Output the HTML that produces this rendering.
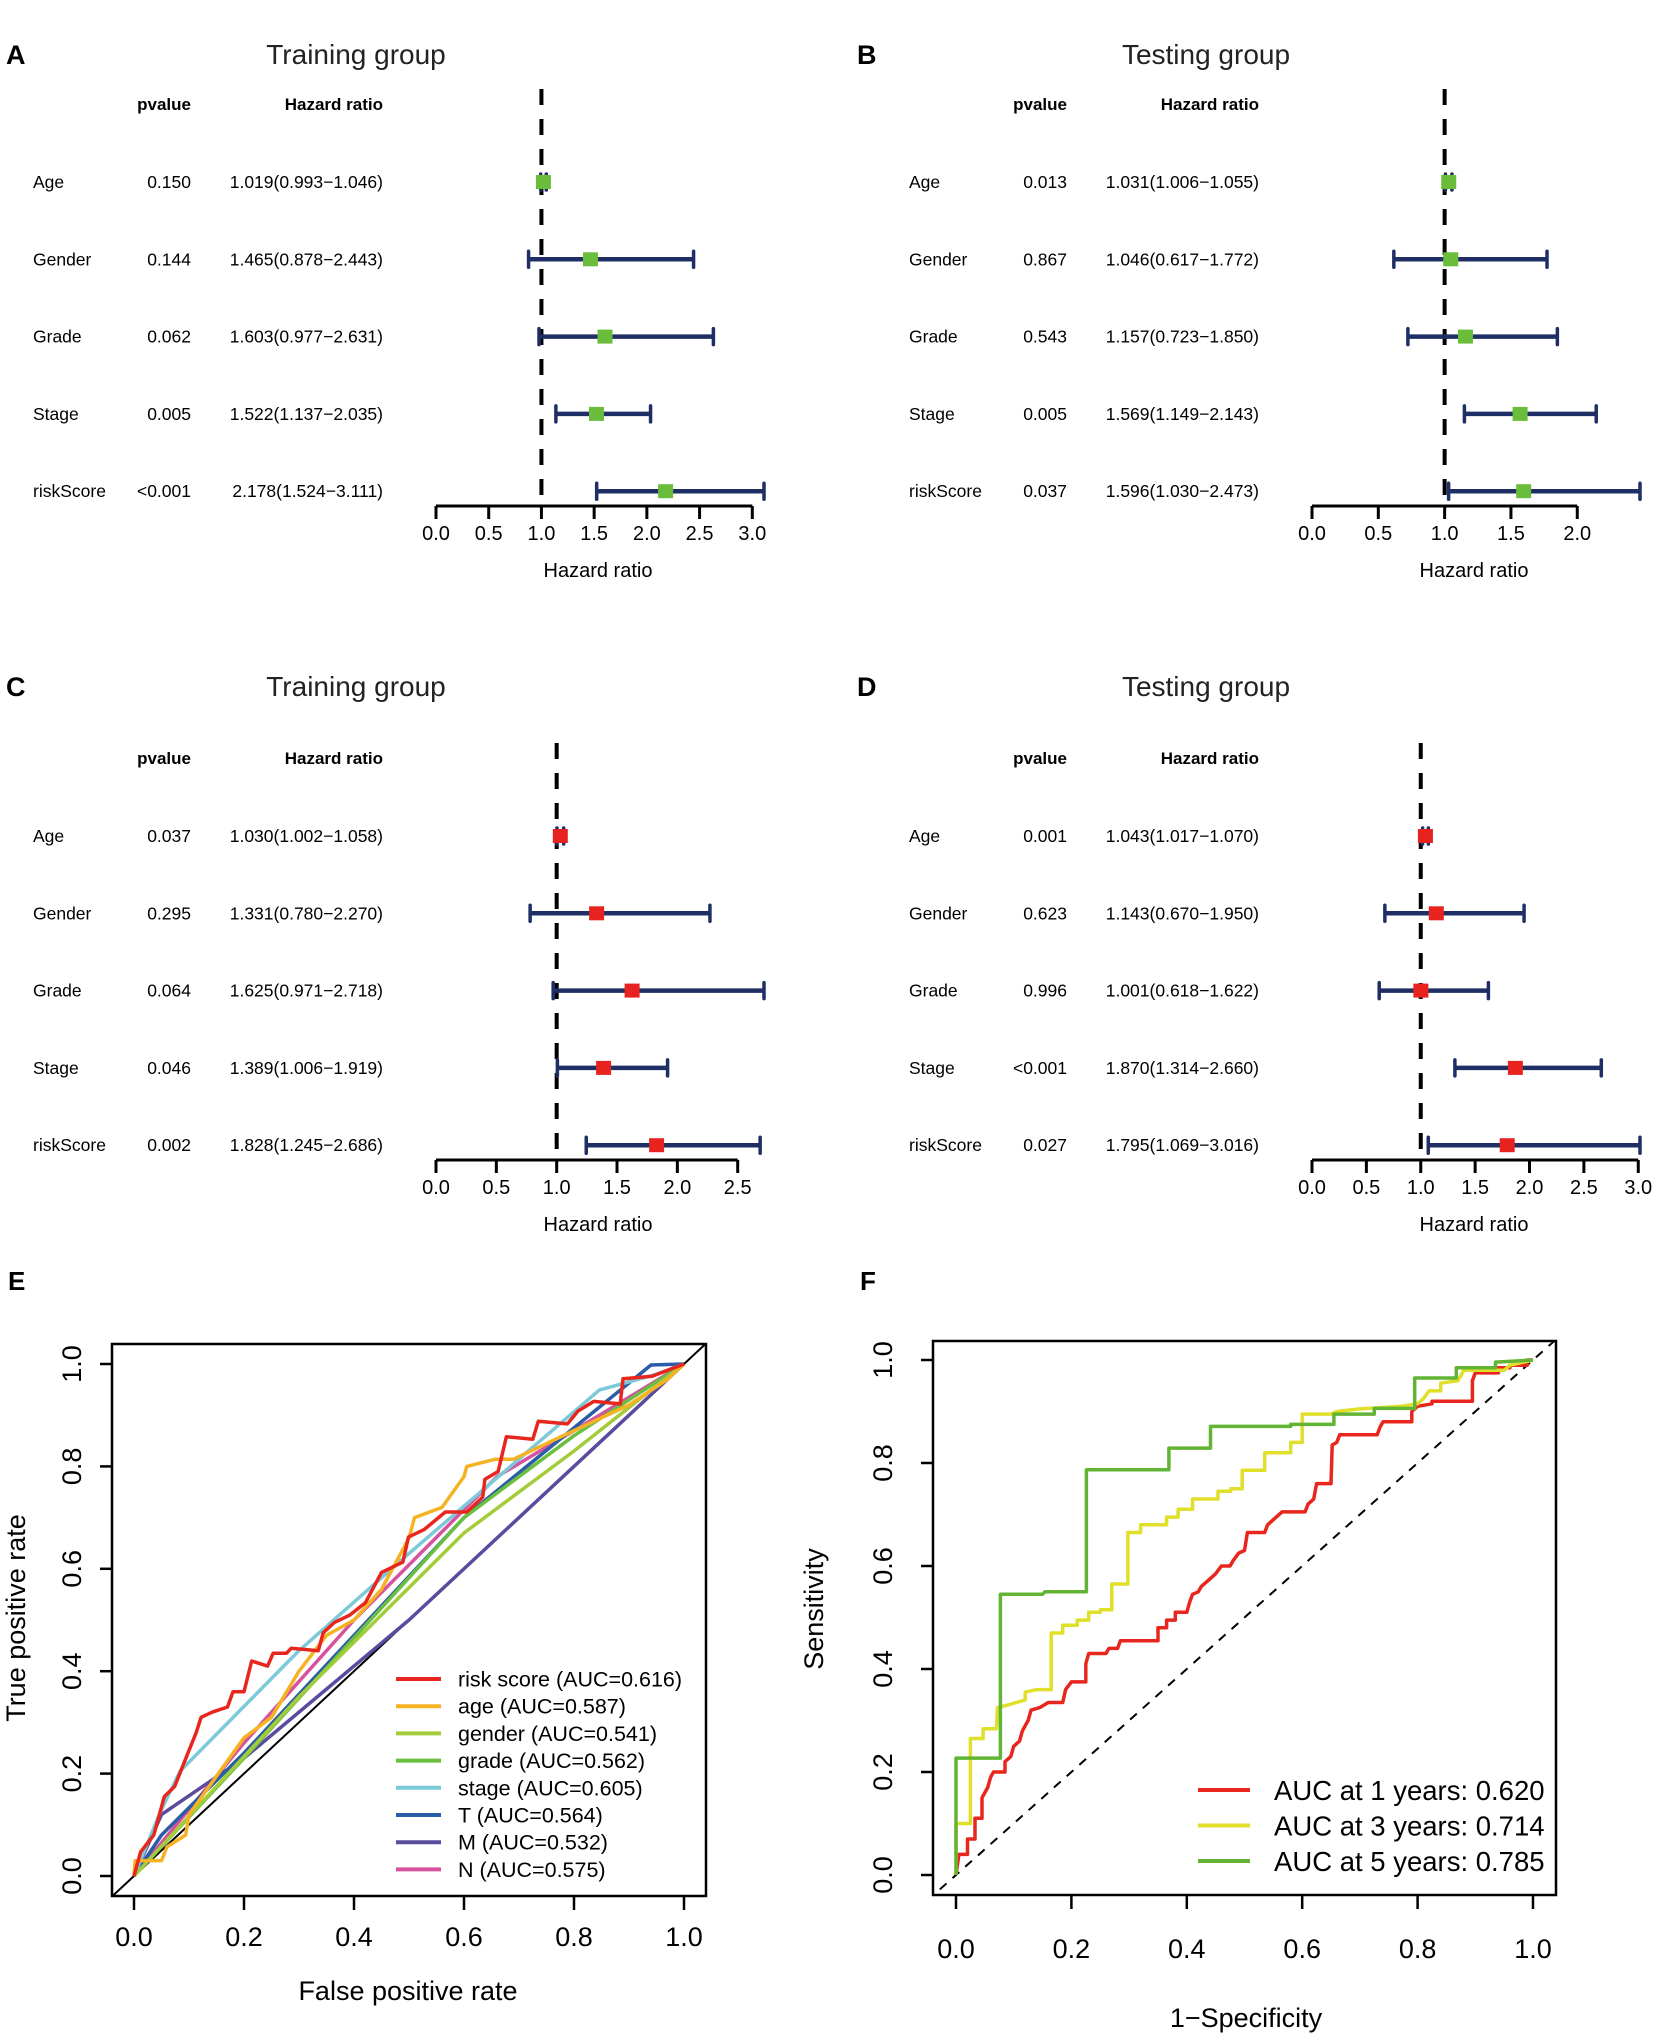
<!DOCTYPE html>
<html><head><meta charset="utf-8"><style>
body{margin:0;background:#fff}
svg{display:block;font-family:"Liberation Sans",Arial,sans-serif}
</style></head><body>
<svg id="fig" width="1654" height="2036" viewBox="0 0 1654 2036" xmlns="http://www.w3.org/2000/svg"></svg>
<script>
// ---- Forest plot data ----
const forestLabels = ["Age","Gender","Grade","Stage","riskScore"];
const pA = ["0.150","0.144","0.062","0.005","<0.001"];
const hrA = [1.019,1.465,1.603,1.522,2.178];
const loA = [0.993,0.878,0.977,1.137,1.524];
const hiA = [1.046,2.443,2.631,2.035,3.111];
const pB = ["0.013","0.867","0.543","0.005","0.037"];
const hrB = [1.031,1.046,1.157,1.569,1.596];
const loB = [1.006,0.617,0.723,1.149,1.030];
const hiB = [1.055,1.772,1.850,2.143,2.473];
const pC = ["0.037","0.295","0.064","0.046","0.002"];
const hrC = [1.030,1.331,1.625,1.389,1.828];
const loC = [1.002,0.780,0.971,1.006,1.245];
const hiC = [1.058,2.270,2.718,1.919,2.686];
const pD = ["0.001","0.623","0.996","<0.001","0.027"];
const hrD = [1.043,1.143,1.001,1.870,1.795];
const loD = [1.017,0.670,0.618,1.314,1.069];
const hiD = [1.070,1.950,1.622,2.660,3.016];
const ticksA = ["0.0","0.5","1.0","1.5","2.0","2.5","3.0"];
const ticksB = ["0.0","0.5","1.0","1.5","2.0"];
const ticksC = ["0.0","0.5","1.0","1.5","2.0","2.5"];
const ticksD = ["0.0","0.5","1.0","1.5","2.0","2.5","3.0"];

// ---- ROC (E) data ----
const rocNames = ["risk score","age","gender","grade","stage","T","M","N"];
const rocAUC = ["0.616","0.587","0.541","0.562","0.605","0.564","0.532","0.575"];
const rocRiskX = [0,0.012,0.036,0.055,0.074,0.098,0.113,0.122,0.142,0.17,0.18,0.2,0.214,0.243,0.253,0.277,0.286,0.335,0.344,0.364,0.393,0.421,0.45,0.489,0.499,0.528,0.566,0.605,0.634,0.638,0.662,0.677,0.725,0.735,0.788,0.807,0.836,0.884,0.889,0.942,1];
const rocRiskY = [0,0.047,0.08,0.155,0.175,0.24,0.28,0.31,0.32,0.33,0.36,0.36,0.42,0.41,0.435,0.435,0.445,0.44,0.475,0.495,0.51,0.534,0.593,0.613,0.662,0.677,0.711,0.711,0.74,0.775,0.79,0.858,0.853,0.888,0.883,0.908,0.927,0.922,0.971,0.976,1];
const rocAgeX = [0,0.002,0.05,0.06,0.094,0.1,0.2,0.25,0.3,0.35,0.4,0.45,0.5,0.51,0.56,0.6,0.605,0.657,0.69,0.8,0.9,0.97,1];
const rocAgeY = [0,0.03,0.03,0.057,0.08,0.12,0.27,0.31,0.40,0.47,0.50,0.56,0.66,0.70,0.72,0.78,0.80,0.814,0.814,0.87,0.92,0.97,1];
const rocGenderX = [0,0.3,0.6,0.8,1];
const rocGenderY = [0,0.35,0.67,0.83,1];
const rocGradeX = [0,0.2,0.6,0.8,1];
const rocGradeY = [0,0.23,0.7,0.86,1];
const rocStageX = [0,0.05,0.084,0.3,0.5,0.846,0.95,1];
const rocStageY = [0,0.13,0.205,0.44,0.63,0.949,0.98,1];
const rocTX = [0,0.05,0.2,0.6,0.94,1];
const rocTY = [0,0.08,0.24,0.7,0.998,1];
const rocMX = [0,0.05,0.2,0.5,1];
const rocMY = [0,0.12,0.23,0.5,1];
const rocNX = [0,0.2,0.4,0.66,0.8,1];
const rocNY = [0,0.26,0.5,0.78,0.87,1];

// ---- Time ROC (F) data ----
const tYears = ["1","3","5"];
const tAUC = ["0.620","0.714","0.785"];
const t1X = [0,0.005,0.02,0.02,0.033,0.033,0.045,0.045,0.055,0.06,0.065,0.085,0.085,0.095,0.1,0.11,0.115,0.125,0.13,0.145,0.16,0.185,0.19,0.2,0.225,0.225,0.23,0.26,0.265,0.28,0.285,0.35,0.35,0.365,0.365,0.38,0.38,0.4,0.405,0.41,0.42,0.425,0.44,0.45,0.46,0.475,0.48,0.49,0.5,0.505,0.535,0.54,0.55,0.565,0.605,0.61,0.62,0.625,0.65,0.652,0.66,0.665,0.73,0.735,0.74,0.79,0.79,0.8,0.825,0.825,0.895,0.895,0.9,0.94,0.94,0.96,0.96,0.99,0.99,1];
const t1Y = [0,0.04,0.04,0.07,0.07,0.11,0.11,0.15,0.17,0.19,0.2,0.2,0.22,0.23,0.25,0.26,0.28,0.3,0.32,0.325,0.335,0.335,0.36,0.375,0.375,0.41,0.43,0.43,0.44,0.44,0.455,0.455,0.48,0.48,0.495,0.495,0.51,0.51,0.53,0.545,0.55,0.56,0.575,0.585,0.6,0.6,0.61,0.625,0.63,0.665,0.665,0.68,0.69,0.705,0.705,0.72,0.73,0.76,0.76,0.835,0.84,0.855,0.855,0.87,0.88,0.88,0.9,0.91,0.915,0.92,0.92,0.96,0.975,0.975,0.985,0.985,0.99,0.99,1,1];
const t3X = [0,0,0.025,0.025,0.047,0.047,0.07,0.072,0.09,0.12,0.12,0.14,0.165,0.165,0.185,0.185,0.21,0.21,0.23,0.23,0.25,0.25,0.27,0.27,0.298,0.298,0.32,0.32,0.365,0.365,0.385,0.385,0.41,0.41,0.454,0.454,0.476,0.476,0.496,0.496,0.535,0.535,0.58,0.58,0.6,0.6,0.65,0.66,0.7,0.77,0.8,0.81,0.82,0.84,0.84,0.87,0.88,0.95,0.96,1];
const t3Y = [0,0.1,0.1,0.265,0.265,0.284,0.284,0.325,0.33,0.34,0.355,0.36,0.36,0.47,0.47,0.485,0.485,0.495,0.495,0.51,0.51,0.515,0.515,0.565,0.565,0.665,0.665,0.68,0.68,0.695,0.695,0.71,0.71,0.73,0.73,0.745,0.745,0.75,0.75,0.786,0.786,0.82,0.82,0.84,0.84,0.895,0.895,0.9,0.905,0.91,0.915,0.925,0.94,0.94,0.955,0.96,0.98,0.98,0.99,1];
const t5X = [0,0,0.077,0.077,0.15,0.154,0.226,0.226,0.369,0.369,0.441,0.441,0.58,0.58,0.655,0.655,0.725,0.725,0.795,0.795,0.867,0.867,0.935,0.935,1];
const t5Y = [0,0.227,0.227,0.545,0.545,0.55,0.55,0.787,0.787,0.829,0.829,0.871,0.871,0.875,0.875,0.895,0.895,0.906,0.906,0.965,0.965,0.985,0.985,0.996,1];

const NS = "http://www.w3.org/2000/svg";
const svg = document.getElementById("fig");
function mk(tag, attrs, parent){
  const e = document.createElementNS(NS, tag);
  for (const k in attrs) e.setAttribute(k, attrs[k]);
  (parent||svg).appendChild(e);
  return e;
}
function txt(s, attrs, parent){ const e = mk("text", attrs, parent); e.textContent = s; return e; }

// ---------- Forest panels ----------
const NAVY = "#1f2f66";
function forest(cfg){
  const g = mk("g", {});
  
  
  const ox = cfg.ox, oy = cfg.oy;
  const L = 436 + ox, R = 764 + ox;
  const maxV = Math.max(...cfg.hi);
  const sx = v => L + (R - L) * v / maxV;
  const lt = txt(cfg.letter, {x: cfg.letterX, y: cfg.titleY + 10, "font-size": 27, "font-weight": "bold", fill: "#000"}, g);
  
  
  const tt = txt(cfg.title, {x: cfg.titleX, y: cfg.titleY + 10, "font-size": 28, "text-anchor": "middle", fill: "#222"}, g);
  
  
  const h1 = txt("pvalue", {x: 191 + ox, y: oy + 110, "font-size": 17, "font-weight": "bold", "text-anchor": "end"}, g);
  
  
  const h2 = txt("Hazard ratio", {x: 383 + ox, y: oy + 110, "font-size": 17, "font-weight": "bold", "text-anchor": "end"}, g);
  
  
  const dl = mk("line", {x1: sx(1), x2: sx(1), y1: oy + 89, y2: oy + 506, stroke: "#000", "stroke-width": 4, "stroke-dasharray": "16,14"}, g);
  
  
  forestLabels.forEach((lab, i) => {
    const cy = oy + 182 + i * 77.3;
    const a = txt(lab, {x: 33 + ox, y: cy + 6, "font-size": 17.5}, g);
    
    
    const b = txt(cfg.p[i], {x: 191 + ox, y: cy + 6, "font-size": 17.5, "text-anchor": "end"}, g);
    
    
    const c = txt(cfg.hr[i].toFixed(3) + "(" + cfg.lo[i].toFixed(3) + "\u2212" + cfg.hi[i].toFixed(3) + ")", {x: 383 + ox, y: cy + 6, "font-size": 17.5, "text-anchor": "end"}, g);
    
    
    const bar = mk("line", {x1: sx(cfg.lo[i]), x2: sx(cfg.hi[i]), y1: cy, y2: cy, stroke: NAVY, "stroke-width": 4.5}, g);
    
    
    const c1 = mk("line", {x1: sx(cfg.lo[i]), x2: sx(cfg.lo[i]), y1: cy - 8, y2: cy + 8, stroke: NAVY, "stroke-width": 3.5, "stroke-linecap": "round"}, g);
    
    
    const c2 = mk("line", {x1: sx(cfg.hi[i]), x2: sx(cfg.hi[i]), y1: cy - 8, y2: cy + 8, stroke: NAVY, "stroke-width": 3.5, "stroke-linecap": "round"}, g);
    
    
    const sq = mk("rect", {x: sx(cfg.hr[i]) - 7.5, y: cy - 7, width: 15, height: 14, fill: cfg.color}, g);
    
    
  });
  const lastTick = parseFloat(cfg.ticks[cfg.ticks.length - 1]);
  const ax = mk("line", {x1: sx(0), x2: sx(lastTick), y1: oy + 506, y2: oy + 506, stroke: "#000", "stroke-width": 3}, g);
  
  
  cfg.ticks.forEach(t => {
    const v = parseFloat(t);
    const tk = mk("line", {x1: sx(v), x2: sx(v), y1: oy + 506, y2: oy + 519, stroke: "#000", "stroke-width": 3}, g);
    
    
    const tl = txt(t, {x: sx(v), y: oy + 540, "font-size": 20, "text-anchor": "middle"}, g);
    
    
  });
  const xt = txt("Hazard ratio", {x: 598 + ox, y: oy + 577, "font-size": 20, "text-anchor": "middle"}, g);
  
  
}
const GREEN = "#6abd3a", RED = "#e8231f";
forest({name:"panel-a", letter:"A", letterX:6, title:"Training group", titleX:356, titleY:54, ox:0, oy:0, p:pA, hr:hrA, lo:loA, hi:hiA, ticks:ticksA, color:GREEN});
forest({name:"panel-b", letter:"B", letterX:857, title:"Testing group", titleX:1206, titleY:54, ox:876, oy:0, p:pB, hr:hrB, lo:loB, hi:hiB, ticks:ticksB, color:GREEN});
forest({name:"panel-c", letter:"C", letterX:6, title:"Training group", titleX:356, titleY:686, ox:0, oy:654, p:pC, hr:hrC, lo:loC, hi:hiC, ticks:ticksC, color:RED});
forest({name:"panel-d", letter:"D", letterX:857, title:"Testing group", titleX:1206, titleY:686, ox:876, oy:654, p:pD, hr:hrD, lo:loD, hi:hiD, ticks:ticksD, color:RED});

// ---------- ROC panels ----------
function rocFrame(cfg){
  const g = mk("g", {});
  
  
  const sx = v => cfg.x0 + (cfg.x1 - cfg.x0) * v;
  const sy = v => cfg.y0 - (cfg.y0 - cfg.y1) * v;
  const lt = txt(cfg.letter, {x: cfg.letterX, y: 1290, "font-size": 26, "font-weight": "bold"}, g);
  
  
  const cp = mk("clipPath", {id: cfg.name + "-clip"}, g);
  mk("rect", {x: cfg.bl, y: cfg.bt, width: cfg.br - cfg.bl, height: cfg.bb - cfg.bt}, cp);
  const diag = mk("line", {x1: sx(-0.05), y1: sy(-0.05), x2: sx(1.05), y2: sy(1.05), stroke: "#000", "stroke-width": cfg.diagW, "stroke-dasharray": cfg.diagDash, "clip-path": "url(#" + cfg.name + "-clip)"}, g);
  
  
  const box = mk("rect", {x: cfg.bl, y: cfg.bt, width: cfg.br - cfg.bl, height: cfg.bb - cfg.bt, fill: "none", stroke: "#000", "stroke-width": 2.5}, g);
  
  
  ["0.0","0.2","0.4","0.6","0.8","1.0"].forEach(t => {
    const v = parseFloat(t);
    const tk = mk("line", {x1: sx(v), x2: sx(v), y1: cfg.bb, y2: cfg.bb + 14, stroke: "#000", "stroke-width": 2.5}, g);
    
    
    const tl = txt(t, {x: sx(v), y: cfg.xLabY, "font-size": 27, "text-anchor": "middle"}, g);
    
    
    const yk = mk("line", {x1: cfg.bl, x2: cfg.bl - 12, y1: sy(v), y2: sy(v), stroke: "#000", "stroke-width": 2.5}, g);
    
    
    const yl = txt(t, {x: 0, y: 0, "font-size": 27, "text-anchor": "middle", transform: "translate(" + (cfg.yLabX + 9) + "," + sy(v) + ") rotate(-90)"}, g);
    
    
  });
  const xt = txt(cfg.xTitle, {x: cfg.xTitleX, y: cfg.xTitleY, "font-size": 27, "text-anchor": "middle"}, g);
  
  
  const yt = txt(cfg.yTitle, {x: 0, y: 0, "font-size": 27, "text-anchor": "middle", transform: "translate(" + cfg.yTitleX + "," + cfg.yTitleY + ") rotate(-90)"}, g);
  
  
  return {g, sx, sy};
}
function curve(fr, xs, ys, color, name){
  let d = "";
  xs.forEach((x, i) => { d += (i ? "L" : "M") + fr.sx(x).toFixed(1) + "," + fr.sy(ys[i]).toFixed(1); });
  const p = mk("path", {d: d, fill: "none", stroke: color, "stroke-width": 3.5, "stroke-linejoin": "round"}, fr.g);
  
  
}

const frE = rocFrame({name:"panel-e", letter:"E", letterX:8, x0:134, x1:684, y0:1876, y1:1364, bl:112, br:706, bt:1344, bb:1896, diagW:2, diagDash:"none", xLabY:1946, yLabX:72, xTitle:"False positive rate", xTitleX:408, xTitleY:2000, yTitle:"True positive rate", yTitleX:25, yTitleY:1618});
const rocColors = ["#e8261e","#f5b323","#a3cc3a","#6abf40","#7cc9da","#2a5ca8","#5b4a9e","#d6519e"];
const rocXs = [rocRiskX, rocAgeX, rocGenderX, rocGradeX, rocStageX, rocTX, rocMX, rocNX];
const rocYs = [rocRiskY, rocAgeY, rocGenderY, rocGradeY, rocStageY, rocTY, rocMY, rocNY];
for (let i = rocXs.length - 1; i >= 0; i--) curve(frE, rocXs[i], rocYs[i], rocColors[i], "roc-curve-" + rocNames[i].replace(" ", "-"));
rocNames.forEach((n, i) => {
  const y = 1679 + i * 27.2;
  const ln = mk("line", {x1: 396, x2: 441, y1: y, y2: y, stroke: rocColors[i], "stroke-width": 4}, frE.g);
  
  
  const t = txt(n + " (AUC=" + rocAUC[i] + ")", {x: 458, y: y + 7.5, "font-size": 21.5}, frE.g);
  
  
});

const frF = rocFrame({name:"panel-f", letter:"F", letterX:860, x0:956, x1:1533, y0:1875, y1:1360, bl:933, br:1556, bt:1341, bb:1895, diagW:2, diagDash:"9,8", xLabY:1958, yLabX:883, xTitle:"1\u2212Specificity", xTitleX:1246, xTitleY:2027, yTitle:"Sensitivity", yTitleX:823, yTitleY:1609});
const tColors = ["#e8261e","#e0df2a","#62b534"];
curve(frF, t1X, t1Y, tColors[0], "roc-curve-1-year");
curve(frF, t3X, t3Y, tColors[1], "roc-curve-3-year");
curve(frF, t5X, t5Y, tColors[2], "roc-curve-5-year");
tYears.forEach((yr, i) => {
  const y = 1790 + i * 35.5;
  const ln = mk("line", {x1: 1198, x2: 1250, y1: y, y2: y, stroke: tColors[i], "stroke-width": 4}, frF.g);
  
  
  const t = txt("AUC at " + yr + " years: " + tAUC[i], {x: 1274, y: y + 10, "font-size": 27.5}, frF.g);
  
  
});
</script>
</body></html>
